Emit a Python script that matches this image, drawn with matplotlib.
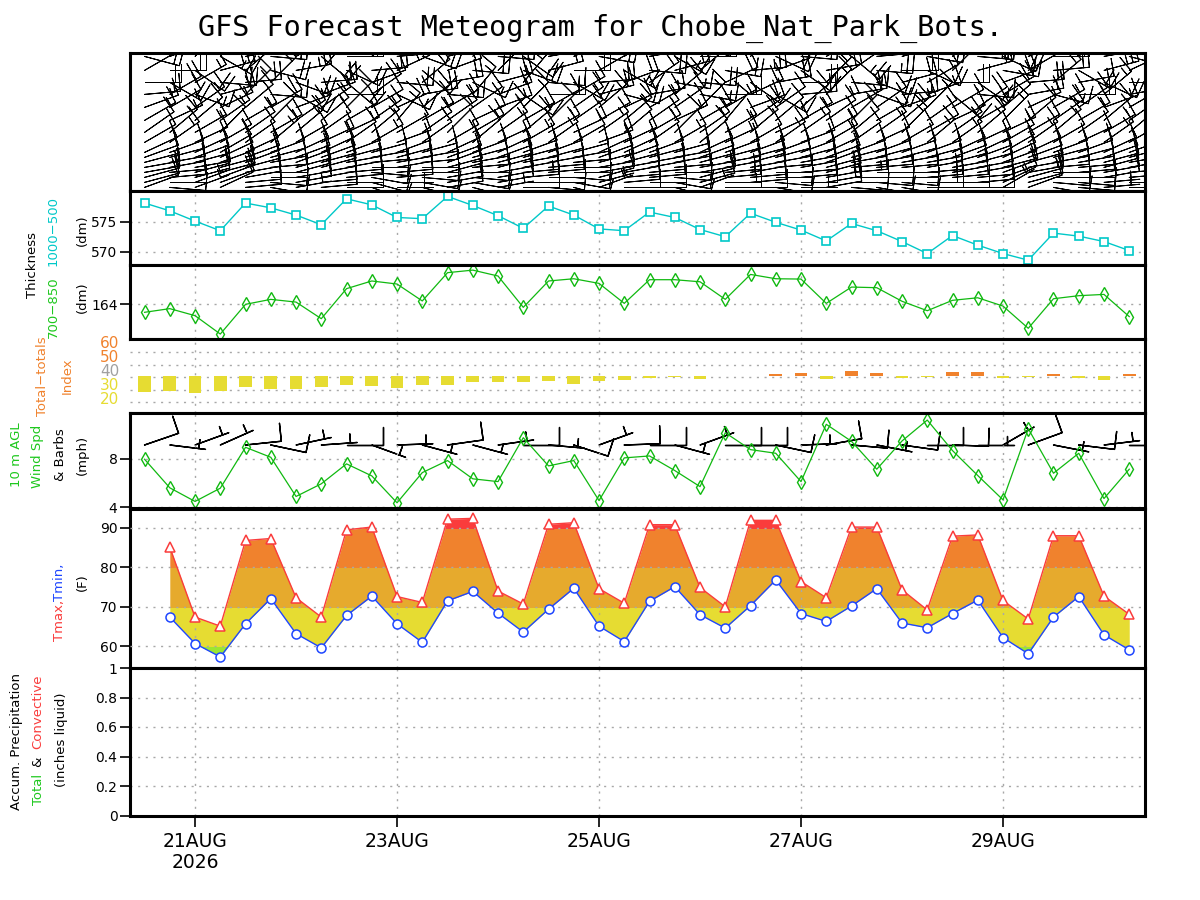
import numpy as np
import pandas as pd
import matplotlib
matplotlib.use('Agg')
import matplotlib.pyplot as plt
from matplotlib.patches import Rectangle

# ---- data ----
times = pd.date_range('2026-08-20 12:00', periods=40, freq='6h')
temp_times = pd.date_range('2026-08-20 18:00', periods=39, freq='6h')
tick_days = [0, 2, 4, 6, 8]
tick_labels = ['21AUG\n2026', '23AUG', '25AUG', '27AUG', '29AUG']

thick_1000_500 = [578.1, 576.8, 575.1, 573.5, 578.1, 577.3, 576.1, 574.5, 578.8, 577.8,
                  575.7, 575.5, 579.2, 577.7, 576.0, 573.9, 577.6, 576.1, 573.8, 573.5,
                  576.6, 575.7, 573.7, 572.5, 576.4, 574.9, 573.6, 571.8, 574.7, 573.5,
                  571.7, 569.7, 572.7, 571.1, 569.7, 568.6, 573.1, 572.6, 571.7, 570.2]
thick_700_850 = [163.5, 163.73, 163.29, 162.14, 164.0, 164.31, 164.14, 163.1, 164.98, 165.46,
                 165.27, 164.21, 165.98, 166.14, 165.77, 163.81, 165.46, 165.6, 165.31, 164.06,
                 165.54, 165.54, 165.41, 164.31, 165.87, 165.6, 165.58, 164.06, 165.08, 165.04,
                 164.19, 163.6, 164.25, 164.41, 163.89, 162.5, 164.35, 164.54, 164.62, 163.23]
tt_index = [28.1, 28.9, 27.4, 28.9, 32.1, 30.3, 30.3, 32.1, 33.4, 32.6,
            31.3, 33.4, 33.4, 36.0, 36.0, 36.0, 36.8, 34.6, 36.6, 37.9,
            39.2, 40.0, 38.4, 40.6, 40.6, 42.4, 43.2, 38.4, 45.3, 43.7,
            39.2, 40.0, 44.5, 44.5, 39.2, 40.0, 42.4, 39.2, 37.6, 42.4]
tt_base = 41.3
tt_labels = ['60', '50', '40', '30', '20']

wind_spd = [7.95, 5.6, 4.48, 5.57, 8.93, 8.11, 4.89, 5.93, 7.57, 6.58,
            4.37, 6.85, 7.84, 6.34, 6.11, 9.72, 7.4, 7.84, 4.55, 8.06,
            8.22, 7.02, 5.7, 10.13, 8.74, 8.44, 6.11, 10.82, 9.42, 7.13,
            9.45, 11.17, 8.66, 6.61, 4.61, 10.46, 6.8, 8.44, 4.72, 7.13]
wind_dir = [71, 97, 70, 66, 84, 102, 78, 86, 90, 110,
            88, 105, 82, 105, 82, 90, 95, 108, 70, 88,
            90, 105, 70, 90, 90, 102, 88, 80, 95, 101,
            98, 90, 92, 90, 60, 70, 101, 97, 83, 90]

tmax = [85.1, 67.4, 65.1, 86.8, 87.3, 72.3, 67.4, 89.5, 90.2, 72.6,
        71.1, 92.2, 92.4, 74.0, 70.7, 90.9, 91.3, 74.6, 70.9, 90.8,
        90.8, 74.9, 70.0, 91.9, 91.9, 76.4, 72.3, 90.2, 90.2, 74.3,
        69.2, 87.9, 88.2, 71.6, 66.9, 88.0, 88.0, 72.7, 68.1]
tmin = [67.4, 60.7, 57.3, 65.7, 72.1, 63.2, 59.6, 67.8, 72.7, 65.7,
        61.0, 71.5, 73.9, 68.4, 63.6, 69.4, 74.7, 65.1, 61.2, 71.4,
        75.1, 68.0, 64.6, 70.3, 76.8, 68.3, 66.3, 70.2, 74.6, 65.9,
        64.7, 68.3, 71.7, 62.2, 58.1, 67.4, 72.6, 62.9, 59.1]

precip_total = [0.0] * 40
precip_conv = [0.0] * 40

# upper-air barbs: pressure levels (bottom to top), wind-from direction (deg), speed (kt)
levels = [1000, 975, 950, 925, 900, 875, 850, 825, 775, 725, 665, 600, 535, 475, 415, 345]
level_dir = [
    "70 95 70 65 85 100 80 85 90 110 90 105 80 105 80 90 95 105 70 90 90 105 70 90 90 100 90 80 95 100 100 90 90 90 60 70 100 95 85 90",
    "75 90 70 70 85 95 80 85 90 105 90 100 80 100 80 90 90 100 75 85 90 100 75 90 85 95 90 80 90 95 95 90 90 85 65 75 95 95 85 90",
    "75 85 75 70 80 90 80 80 85 100 85 95 80 95 80 85 90 95 75 85 85 95 75 85 85 90 85 80 90 90 90 85 85 85 70 75 90 90 80 85",
    "80 85 75 75 80 90 75 80 85 95 85 90 75 90 80 85 85 90 80 80 85 90 80 85 80 90 85 75 85 90 90 85 80 80 70 80 90 85 80 85",
    "80 80 80 75 75 85 75 75 80 90 80 90 75 85 75 80 85 90 80 80 80 85 80 80 80 85 80 75 85 85 85 80 80 80 75 80 85 85 75 80",
    "75 80 75 70 70 80 70 75 80 85 80 85 70 80 75 80 80 85 75 75 80 80 75 80 75 80 80 70 80 80 80 80 75 75 70 75 80 80 75 80",
    "70 75 70 65 70 75 70 70 75 80 75 80 70 75 70 75 75 80 70 70 75 80 70 75 75 75 75 70 75 75 75 75 70 70 65 70 75 75 70 75",
    "65 70 65 60 65 70 65 65 70 75 70 75 65 70 65 70 70 75 65 65 70 75 65 70 70 70 70 65 70 70 70 70 65 65 60 65 70 70 65 70",
    "60 55 65 60 55 50 60 65 55 60 70 55 60 50 65 60 55 60 70 65 55 60 50 65 60 55 70 60 55 65 60 50 55 65 60 55 60 65 55 60",
    "55 50 60 45 55 60 50 55 65 50 60 55 45 60 55 50 60 65 55 50 60 45 55 60 50 65 55 60 50 55 45 60 55 50 65 60 50 55 60 50",
    "60 65 50 55 60 45 55 50 60 55 40 60 55 65 50 60 45 55 60 50 55 65 60 40 55 50 60 55 45 60 50 55 65 60 45 50 55 60 50 55",
    "70 60 55 65 50 60 70 55 45 60 65 50 60 55 70 45 60 55 50 65 60 55 45 60 70 55 50 65 60 55 70 45 60 55 50 65 60 55 70 60",
    "85 60 110 75 45 95 120 70 90 55 115 80 95 40 70 125 90 60 75 105 80 50 100 90 65 120 85 45 80 110 85 70 130 95 60 80 105 90 50 80",
    "90 120 60 95 85 45 110 85 130 70 95 50 80 115 75 40 95 120 85 70 55 100 95 65 125 80 90 45 95 110 75 60 90 125 70 85 50 80 115 90",
    "60 90 125 75 50 105 80 40 115 85 65 130 70 95 45 110 75 90 60 120 95 75 50 100 85 70 125 80 55 95 90 115 45 75 100 60 85 120 75 65",
    "105 70 45 120 80 95 60 130 90 50 85 110 75 40 95 125 80 65 100 55 80 120 90 70 45 115 95 60 130 85 75 100 50 95 115 70 90 45 80 105",
]
level_spd = [
    "9 8 6 8 10 9 7 8 9 8 6 8 9 8 7 11 9 9 6 10 10 8 7 12 10 9 7 12 11 9 11 12 10 8 6 11 8 10 6 9",
    "10 8 7 9 11 10 8 8 10 9 7 10 9 9 8 12 10 9 7 11 10 9 8 13 11 10 9 13 12 9 11 13 11 9 7 12 9 10 7 9",
    "11 9 8 10 12 10 9 9 11 10 8 10 10 10 9 12 11 10 8 11 11 10 9 13 12 10 9 14 12 10 12 13 11 10 8 12 10 11 8 10",
    "11 10 9 10 12 11 10 10 11 10 9 11 11 10 10 13 11 11 9 12 12 10 10 13 12 11 10 14 13 11 12 14 12 10 9 13 10 11 9 11",
    "10 10 9 11 11 11 10 10 10 11 9 10 11 10 10 12 10 11 9 10 12 10 10 13 11 11 10 13 12 11 11 13 12 10 9 12 10 10 9 10",
    "9 9 10 10 11 10 9 10 10 11 10 9 10 10 11 11 10 10 10 9 11 10 10 12 10 11 10 12 10 10 11 12 11 10 10 11 10 9 10 9",
    "9 8 10 9 10 11 8 10 9 10 9 8 11 9 10 11 9 10 8 9 11 9 10 12 10 11 9 12 11 10 10 12 11 9 10 11 9 8 9 8",
    "8 8 9 8 9 10 8 9 8 8 9 8 10 8 9 10 8 9 8 8 10 8 9 11 9 10 8 11 10 9 8 11 10 8 9 10 8 8 8 8",
    "10 13 11 14 10 13 12 15 11 14 10 12 16 12 10 14 13 11 14 10 12 15 11 13 10 14 12 13 10 12 11 15 13 10 12 14 12 11 14 10",
    "12 14 16 12 13 15 13 11 15 17 12 14 12 16 13 11 16 13 15 12 14 12 16 13 16 11 13 15 12 14 17 12 13 15 13 11 15 12 14 16",
    "13 15 11 16 14 12 16 14 12 17 13 15 14 11 16 14 12 16 12 14 15 13 17 11 14 12 16 14 16 12 13 15 12 16 14 11 14 16 13 12",
    "15 12 17 14 13 18 16 14 16 12 18 15 13 16 14 17 12 16 14 18 15 13 16 14 18 12 16 15 14 17 13 16 14 18 12 15 16 14 16 14",
    "16 18 15 20 17 14 19 16 18 20 15 18 17 14 20 16 18 15 19 18 16 20 17 14 18 16 20 15 18 19 16 17 20 15 18 16 14 19 17 18",
    "18 21 17 19 22 17 20 19 21 16 19 18 22 17 21 19 17 20 22 18 19 17 21 19 16 21 18 20 17 22 19 17 21 19 18 21 20 17 19 19",
    "20 22 18 23 20 19 23 21 18 22 23 20 22 19 21 23 18 22 20 23 20 18 22 21 23 19 20 22 18 23 21 20 23 19 22 20 22 18 23 21",
    "21 23 20 24 22 20 24 20 22 24 21 23 19 22 24 20 22 24 20 21 23 24 20 22 24 20 22 21 24 20 23 22 19 24 21 22 24 20 22 23",
]

# ---- colours ----
CYAN = '#00c8c8'
GREEN = '#10b910'
TXT_GREEN = '#1ec81e'
ORANGE = '#f0822d'
YELLOW = '#e6dc32'
RED = '#fa3c3c'
BLUE = '#1e46ff'
GRID = '#a8a8a8'

day0 = pd.Timestamp('2026-08-21')
t = np.asarray((times - day0) / pd.Timedelta('1D'))
tt = np.asarray((temp_times - day0) / pd.Timedelta('1D'))
xlim = (-0.644, 9.406)

fig = plt.figure(figsize=(12, 9), dpi=100)


def panel(top, bottom):
    ax = fig.add_axes([130 / 1200, 1 - bottom / 900, 1015 / 1200, (bottom - top) / 900])
    ax.set_xlim(*xlim)
    for s in ax.spines.values():
        s.set_linewidth(2.2)
    ax.set_xticks(tick_days)
    ax.tick_params(axis='x', length=0, labelbottom=False)
    ax.tick_params(axis='y', direction='out', length=7, width=1.2, labelsize=10, pad=2)
    ax.grid(True, color=GRID, linestyle=(0, (1.5, 4)), linewidth=1)
    return ax


def wind_uv(direc, spd):
    rad = np.deg2rad(np.asarray(direc, dtype=float))
    spd = np.asarray(spd, dtype=float)
    return -spd * np.sin(rad), -spd * np.cos(rad)


# top: upper-air barbs
ax1 = panel(53, 191)
ax1.grid(False)
ax1.set_yticks([])
ax1.set_ylim(1018, 328)
for lev, dstr, sstr in zip(levels, level_dir, level_spd):
    d = [int(v) for v in dstr.split()]
    s = [int(v) for v in sstr.split()]
    u, v = wind_uv(d, s)
    ax1.barbs(t, np.full(len(t), lev), u, v, length=7.2, linewidth=0.7, color='k',
              flip_barb=True, sizes=dict(width=0.0, spacing=0.16, height=0.5))

# 1000-500 thickness
ax2 = panel(191, 265)
ax2.plot(t, thick_1000_500, color=CYAN, lw=1, marker='s', ms=6, mfc='white', mec=CYAN, mew=1.2)
ax2.set_ylim(567.8, 580.1)
ax2.set_yticks([570, 575])

# 700-850 thickness
ax3 = panel(265, 339)
ax3.plot(t, thick_700_850, color=GREEN, lw=0.9, marker='d', ms=7.5, mfc='none', mec=GREEN, mew=1)
ax3.set_ylim(161.83, 166.46)
ax3.set_yticks([164])

# total-totals index
ax4 = panel(339, 413)
ax4.spines['left'].set_visible(False)
bar_col = [ORANGE if v > tt_base else YELLOW for v in tt_index]
ax4.bar(t, np.asarray(tt_index) - tt_base, bottom=tt_base, width=0.126, color=bar_col, zorder=3)
ax4.set_ylim(11.3, 70.6)
ax4.set_yticks([20, 30, 40, 50, 60])
ax4.tick_params(axis='y', length=0, labelleft=False)
for lab, y, c in zip(tt_labels, [344, 357, 371.3, 385.7, 400], [ORANGE, ORANGE, '#a0a0a0', YELLOW, YELLOW]):
    fig.text(119.5 / 1200, 1 - y / 900, lab, ha='right', va='center', fontsize=11, color=c)

# 10 m wind speed and barbs
ax5 = panel(413, 508.5)
ax5.plot(t, wind_spd, color=GREEN, lw=0.9, marker='d', ms=7.5, mfc='none', mec=GREEN, mew=1)
u, v = wind_uv(wind_dir, wind_spd)
ax5.barbs(t, np.full(len(t), 9.12), u, v, length=7.2, linewidth=1, color='k',
          flip_barb=True, sizes=dict(width=0.0, height=0.5))
ax5.set_ylim(3.9, 11.75)
ax5.set_yticks([4, 8])

# temperatures
ax6 = panel(508.5, 668)
bands = [(0, 60, '#9be632'), (60, 70, YELLOW), (70, 80, '#e6aa2d'), (80, 90, ORANGE), (90, 130, RED)]
for lo, hi, c in bands:
    poly = ax6.fill_between(tt, tmin, tmax, color=c, lw=0, zorder=1)
    poly.set_clip_path(Rectangle((xlim[0], lo), xlim[1] - xlim[0], hi - lo, transform=ax6.transData))
ax6.plot(tt, tmax, color=RED, lw=1, marker='^', ms=7, mfc='white', mec=RED, mew=1.1, zorder=4)
ax6.plot(tt, tmin, color=BLUE, lw=1, marker='o', ms=6.5, mfc='white', mec=BLUE, mew=1.1, zorder=4)
ax6.set_ylim(54.5, 94.9)
ax6.set_yticks([60, 70, 80, 90])
ax6.set_axisbelow(False)
for gl in ax6.get_xgridlines() + ax6.get_ygridlines():
    gl.set_zorder(2)

# accumulated precipitation
ax7 = panel(668, 815.5)
ax7.plot(t, precip_total, color=TXT_GREEN, lw=1, zorder=1)
ax7.plot(t, precip_conv, color=RED, lw=1, zorder=1)
ax7.set_ylim(0, 1)
ax7.set_yticks([0, 0.2, 0.4, 0.6, 0.8, 1])
ax7.set_yticklabels(['0', '0.2', '0.4', '0.6', '0.8', '1'])
ax7.tick_params(axis='x', length=8, width=1.2, direction='out', labelbottom=True,
                labelsize=13.5, pad=4)
ax7.set_xticklabels(tick_labels, linespacing=1.15)

# title and side labels
fig.text(0.5, 1 - 28 / 900, 'GFS Forecast Meteogram for Chobe_Nat_Park_Bots.',
         ha='center', va='center', fontsize=20.5, family='DejaVu Sans Mono')


def side(x, y, s, c='k'):
    fig.text(x / 1200, 1 - y / 900, s, rotation=90, ha='center', va='center', fontsize=9.5, color=c)


side(32, 265, 'Thickness')
side(53, 231, '1000\u2212500', CYAN)
side(53, 307, '700\u2212850', TXT_GREEN)
side(82, 230, '(dm)')
side(82, 297, '(dm)')
side(43, 376, 'Total\u2212totals', ORANGE)
side(67, 376, 'Index', ORANGE)
side(17, 455, '10 m AGL', TXT_GREEN)
side(38, 456, 'Wind Spd', TXT_GREEN)
side(61, 455, '& Barbs')
side(82, 455, '(mph)')
side(59, 620, 'Tmax,', RED)
side(59, 582, 'Tmin,', BLUE)
side(82, 582, '(F)')
side(17, 742, 'Accum. Precipitation')
side(38, 789, 'Total', TXT_GREEN)
side(38, 762, '&')
side(38, 712, 'Convective', RED)
side(61, 740, '(inches liquid)')

fig.savefig('out.png', dpi=100)
